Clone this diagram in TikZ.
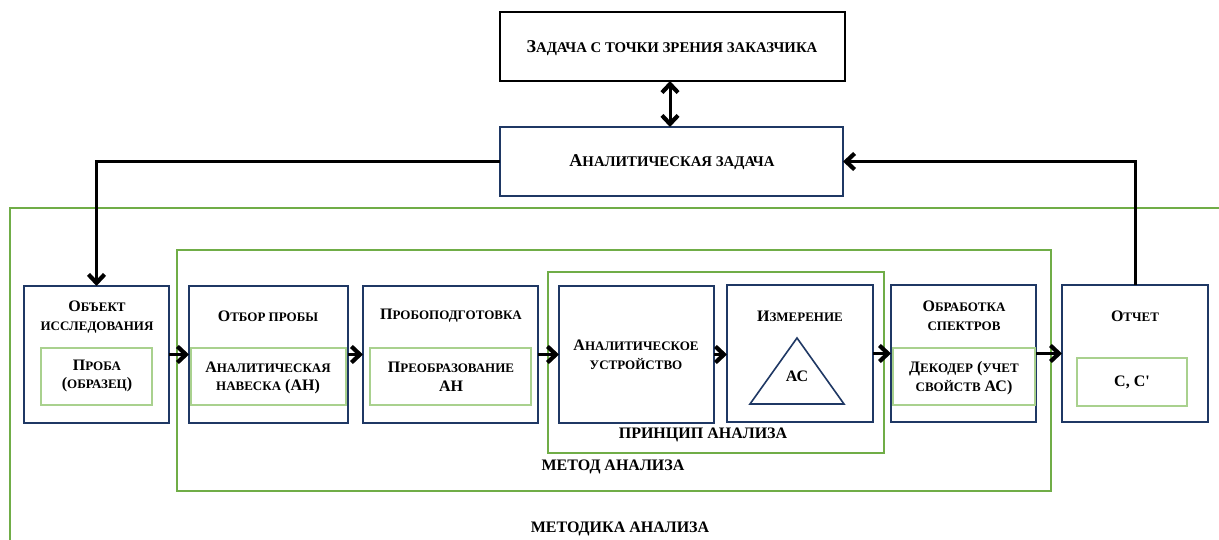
\documentclass[tikz,border=0pt]{standalone}
\usepackage{fontspec}
\setmainfont{Liberation Serif}
\usetikzlibrary{arrows.meta,fit}
\definecolor{navy}{HTML}{1F3864}
\definecolor{mgreen}{HTML}{70AD47}
\definecolor{lgreen}{HTML}{A9D18E}
% small-caps imitation: smaller upper-case letters
\newcommand\sm[1]{{\fontsize{13}{18.5}\selectfont #1}}
\newcommand\smb[1]{{\fontsize{14.8}{18.5}\selectfont #1}}
\tikzset{
  box/.style={draw=navy, line width=2pt, inner sep=0pt, outer sep=0pt},
  topbox/.style={draw=black, line width=2.2pt, inner sep=0pt, outer sep=0pt},
  inbox/.style={draw=lgreen, line width=1.5pt, inner sep=0pt, outer sep=0pt},
  grp/.style={draw=mgreen, line width=2.6pt},
  txt/.style={font=\bfseries\fontsize{16}{18.5}\selectfont, align=center, inner sep=0pt},
  toptxt/.style={font=\bfseries\fontsize{18}{20}\selectfont, align=center, inner sep=0pt},
  lbl/.style={font=\bfseries\fontsize{16}{18}\selectfont, inner sep=0pt},
  tip/.tip={Straight Barb[length=8.5pt,width=16pt,line width=4.2pt]},
  conn/.style={line width=3pt, -tip},
}
\begin{document}
\begin{tikzpicture}[x=1pt,y=-1pt]
\clip (0,0) rectangle (1219,540);
\fill[white] (0,0) rectangle (1219,540);

% group frames
\draw[grp] (10,208) rectangle (1240,560);
\draw[grp] (177,250) rectangle (1051,491);
\draw[grp] (548,272) rectangle (884,453);

% top boxes
\node[topbox, fit={(500,12) (845,81)}] (cust) {};
\node[box, fit={(500,127) (843,196)}] (task) {};
\node[toptxt] at (672,48) {З\smb{АДАЧА С ТОЧКИ ЗРЕНИЯ ЗАКАЗЧИКА}};
\node[toptxt] at (672,162) {А\smb{НАЛИТИЧЕСКАЯ ЗАДАЧА}};

% process boxes
\node[box, fit={(24,286) (169,423)}] (obj) {};
\node[box, fit={(189,286) (348,423)}] (otbor) {};
\node[box, fit={(363,286) (538,423)}] (prep) {};
\node[box, fit={(559,286) (714,423)}] (dev) {};
\node[box, fit={(727,285) (873,422)}] (meas) {};
\node[box, fit={(891,285) (1036,422)}] (proc) {};
\node[box, fit={(1062,285) (1208,422)}] (rep) {};

% inner boxes
\node[inbox, fit={(41,348) (152,405)}] (sample) {};
\node[inbox, fit={(191,348) (346,405)}] (weigh) {};
\node[inbox, fit={(370,348) (531,405)}] (conv) {};
\node[inbox, fit={(893,348) (1035,405)}] (dec) {};
\node[inbox, fit={(1077,358) (1187,406)}] (res) {};

% triangle in the measurement box
\coordinate (ta) at (797,338);
\coordinate (tl) at (750,404);
\coordinate (tr) at (844,404);
\draw[navy, line width=1.6pt, line join=miter] (ta) -- (tl) -- (tr) -- cycle;

% texts
\node[txt] (tobj) at (97,317) {О\sm{БЪЕКТ}\\\sm{ИССЛЕДОВАНИЯ}};
\node[txt] (tsample) at (97,376) {П\sm{РОБА}\\(\sm{ОБРАЗЕЦ})};
\node[txt] (totbor) at (268,316) {О\sm{ТБОР ПРОБЫ}};
\node[txt] (tweigh) at (268,378) {А\sm{НАЛИТИЧЕСКАЯ}\\\sm{НАВЕСКА} (АН)};
\node[txt] (tprep) at (451,316) {П\sm{РОБОПОДГОТОВКА}};
\node[txt] (tconv) at (451,377) {П\sm{РЕОБРАЗОВАНИЕ}\\АН};
\node[txt] (tdev) at (636,355) {А\sm{НАЛИТИЧЕСКОЕ}\\\sm{УСТРОЙСТВО}};
\node[txt] (tmeas) at (800,316) {И\sm{ЗМЕРЕНИЕ}};
\node[txt] (tas) at (797,376) {АС};
\node[txt] (tproc) at (964,316) {О\sm{БРАБОТКА}\\\sm{СПЕКТРОВ}};
\node[txt] (tdec) at (964,378) {Д\sm{ЕКОДЕР} (\sm{УЧЕТ}\\\sm{СВОЙСТВ} АС)};
\node[txt] (trep) at (1135,316) {О\sm{ТЧЕТ}};
\node[txt] (tres) at (1132,382) {С, С\textquotesingle};

% group labels
\node[lbl] (lprin) at (703,435) {ПРИНЦИП АНАЛИЗА};
\node[lbl] (lmeth) at (613,467) {МЕТОД АНАЛИЗА};
\node[lbl] (lmtk) at (620,529) {МЕТОДИКА АНАЛИЗА};

% connectors
\draw[line width=3pt, tip-tip] (cust.south -| 670,0) -- (task.north -| 670,0);
\draw[conn] (task.west) -| (obj.north);
\draw[conn] (rep.north) |- (task.east);
\draw[conn] (obj.east) -- (otbor.west);
\draw[conn] (otbor.east) -- (prep.west);
\draw[conn] (prep.east) -- (dev.west);
\draw[conn] (dev.east) -- (dev.east -| meas.west);
\draw[conn] (meas.east) -- (proc.west);
\draw[conn] (proc.east) -- (rep.west);
\end{tikzpicture}
\end{document}
